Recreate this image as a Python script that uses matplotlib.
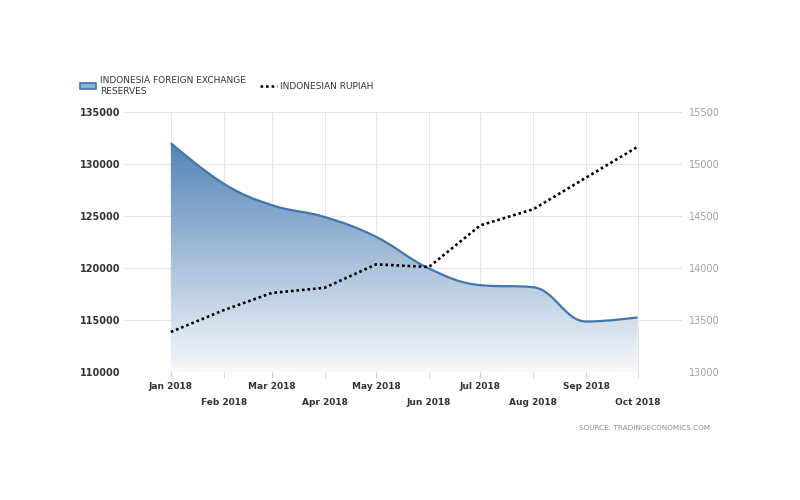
import numpy as np
import matplotlib
matplotlib.use('Agg')
import matplotlib.pyplot as plt
import matplotlib.dates as mdates
from matplotlib.path import Path
from matplotlib.patches import PathPatch, Patch
from matplotlib.lines import Line2D
from matplotlib.colors import LinearSegmentedColormap
import datetime as dt

months = [dt.date(2018, m, 1) for m in range(1, 11)]
month_labels = ['Jan 2018', 'Feb 2018', 'Mar 2018', 'Apr 2018', 'May 2018',
                'Jun 2018', 'Jul 2018', 'Aug 2018', 'Sep 2018', 'Oct 2018']
reserves = [132000, 128100, 126050, 124900, 123000, 119950, 118350, 118150, 114850, 115250]
rupiah = [13385, 13595, 13760, 13810, 14035, 14010, 14410, 14565, 14870, 15165]

line_blue = '#4176ad'
grid_col = '#e6e6e6'


def controls(xs, ys, i, smoothing=1.5):
    # spline control points around point i, clamped so the curve does not overshoot
    px, py = xs[i], ys[i]
    if i == 0 or i == len(xs) - 1:
        return (px, py), (px, py)
    lx, ly = xs[i - 1], ys[i - 1]
    nx, ny = xs[i + 1], ys[i + 1]
    d = smoothing + 1
    lcx, lcy = (smoothing * px + lx) / d, (smoothing * py + ly) / d
    rcx, rcy = (smoothing * px + nx) / d, (smoothing * py + ny) / d
    corr = (rcy - lcy) * (rcx - px) / (rcx - lcx) + py - rcy
    lcy += corr
    rcy += corr
    if lcy > ly and lcy > py:
        lcy = max(ly, py)
        rcy = 2 * py - lcy
    elif lcy < ly and lcy < py:
        lcy = min(ly, py)
        rcy = 2 * py - lcy
    if rcy > ny and rcy > py:
        rcy = max(ny, py)
        lcy = 2 * py - rcy
    elif rcy < ny and rcy < py:
        rcy = min(ny, py)
        lcy = 2 * py - rcy
    return (lcx, lcy), (rcx, rcy)


def smooth_path(xs, ys, base):
    verts = [(xs[0], ys[0])]
    codes = [Path.MOVETO]
    for i in range(1, len(xs)):
        _, right_prev = controls(xs, ys, i - 1)
        left_cur, _ = controls(xs, ys, i)
        verts += [right_prev, left_cur, (xs[i], ys[i])]
        codes += [Path.CURVE4] * 3
    line_path = Path(verts, codes)
    fverts = verts + [(xs[-1], base), (xs[0], base), (xs[0], ys[0])]
    fcodes = codes + [Path.LINETO, Path.LINETO, Path.CLOSEPOLY]
    return line_path, Path(fverts, fcodes)


fig = plt.figure(figsize=(8, 5), dpi=100)
ax = fig.add_axes([123 / 800, 1 - 372 / 500, 559 / 800, 260 / 500])
ax2 = ax.twinx()

x = mdates.date2num(months)
x_lo = x[0] - 28
x_hi = x[-1] + 26
ax.set_xlim(x_lo, x_hi)
ax.set_ylim(110000, 135000)
ax2.set_ylim(13000, 15500)

line_path, fill_path = smooth_path(list(x), reserves, 110000)

# gradient fill under the reserves curve
cmap = LinearSegmentedColormap.from_list('fade', ['#3d74ad', '#f7f9fc'])
grad = np.linspace(0, 1, 256).reshape(-1, 1)
im = ax.imshow(grad, cmap=cmap, aspect='auto', extent=[x_lo, x_hi, 110000, 135000],
               origin='upper', zorder=2)
clip = PathPatch(fill_path, transform=ax.transData, facecolor='none', edgecolor='none')
ax.add_patch(clip)
im.set_clip_path(clip)
ax.add_patch(PathPatch(line_path, transform=ax.transData, facecolor='none',
                       edgecolor=line_blue, lw=1.6, zorder=3))

ax2.plot(x, rupiah, color='black', lw=1.9, linestyle=(0, (1, 1.1)), zorder=4)

# grid
for v in range(110000, 135001, 5000):
    ax.axhline(v, color=grid_col, lw=0.75, zorder=1)
for xv in x:
    ax.axvline(xv, color=grid_col, lw=0.75, zorder=1)

for a in (ax, ax2):
    for s in a.spines.values():
        s.set_visible(False)

ax.set_yticks(range(110000, 135001, 5000))
ax.set_yticklabels([str(v) for v in range(110000, 135001, 5000)])
ax.tick_params(axis='y', length=0, pad=2, labelsize=7, labelcolor='#333333')
for t in ax.get_yticklabels():
    t.set_fontweight('bold')
ax2.set_yticks(range(13000, 15501, 500))
ax2.set_yticklabels([str(v) for v in range(13000, 15501, 500)])
ax2.tick_params(axis='y', length=0, pad=5, labelsize=7, labelcolor='#a0a0a0')

# staggered month labels
ax.set_xticks(x[0::2])
ax.set_xticklabels(month_labels[0::2])
ax.set_xticks(x[1::2], minor=True)
ax.set_xticklabels(month_labels[1::2], minor=True)
ax.tick_params(axis='x', which='major', length=4, color='#d0d0d0', pad=3,
               labelsize=6.5, labelcolor='#333333')
ax.tick_params(axis='x', which='minor', length=4, color='#d0d0d0', pad=15,
               labelsize=6.5, labelcolor='#333333')
for t in ax.get_xticklabels(which='both'):
    t.set_fontweight('bold')

# legend
handles = [Patch(facecolor='#8fb0d3', edgecolor=line_blue, lw=1.2),
           Line2D([0], [0], color='black', lw=1.9, linestyle=(0, (1, 1.1)))]
labels = ['INDONESIA FOREIGN EXCHANGE\nRESERVES', 'INDONESIAN RUPIAH']
fig.legend(handles, labels, loc='upper left', bbox_to_anchor=(72 / 800, 1 - 68 / 500),
           ncol=2, frameon=False, fontsize=6.5, handlelength=1.8, handleheight=0.7,
           handletextpad=0.4, columnspacing=1.6, labelspacing=0.1,
           labelcolor='#333333')

fig.text(710 / 800, 1 - 428 / 500, 'SOURCE: TRADINGECONOMICS.COM', fontsize=5.2,
         color='#8a8a8a', ha='right', va='center')

fig.savefig('out.png', dpi=100)
